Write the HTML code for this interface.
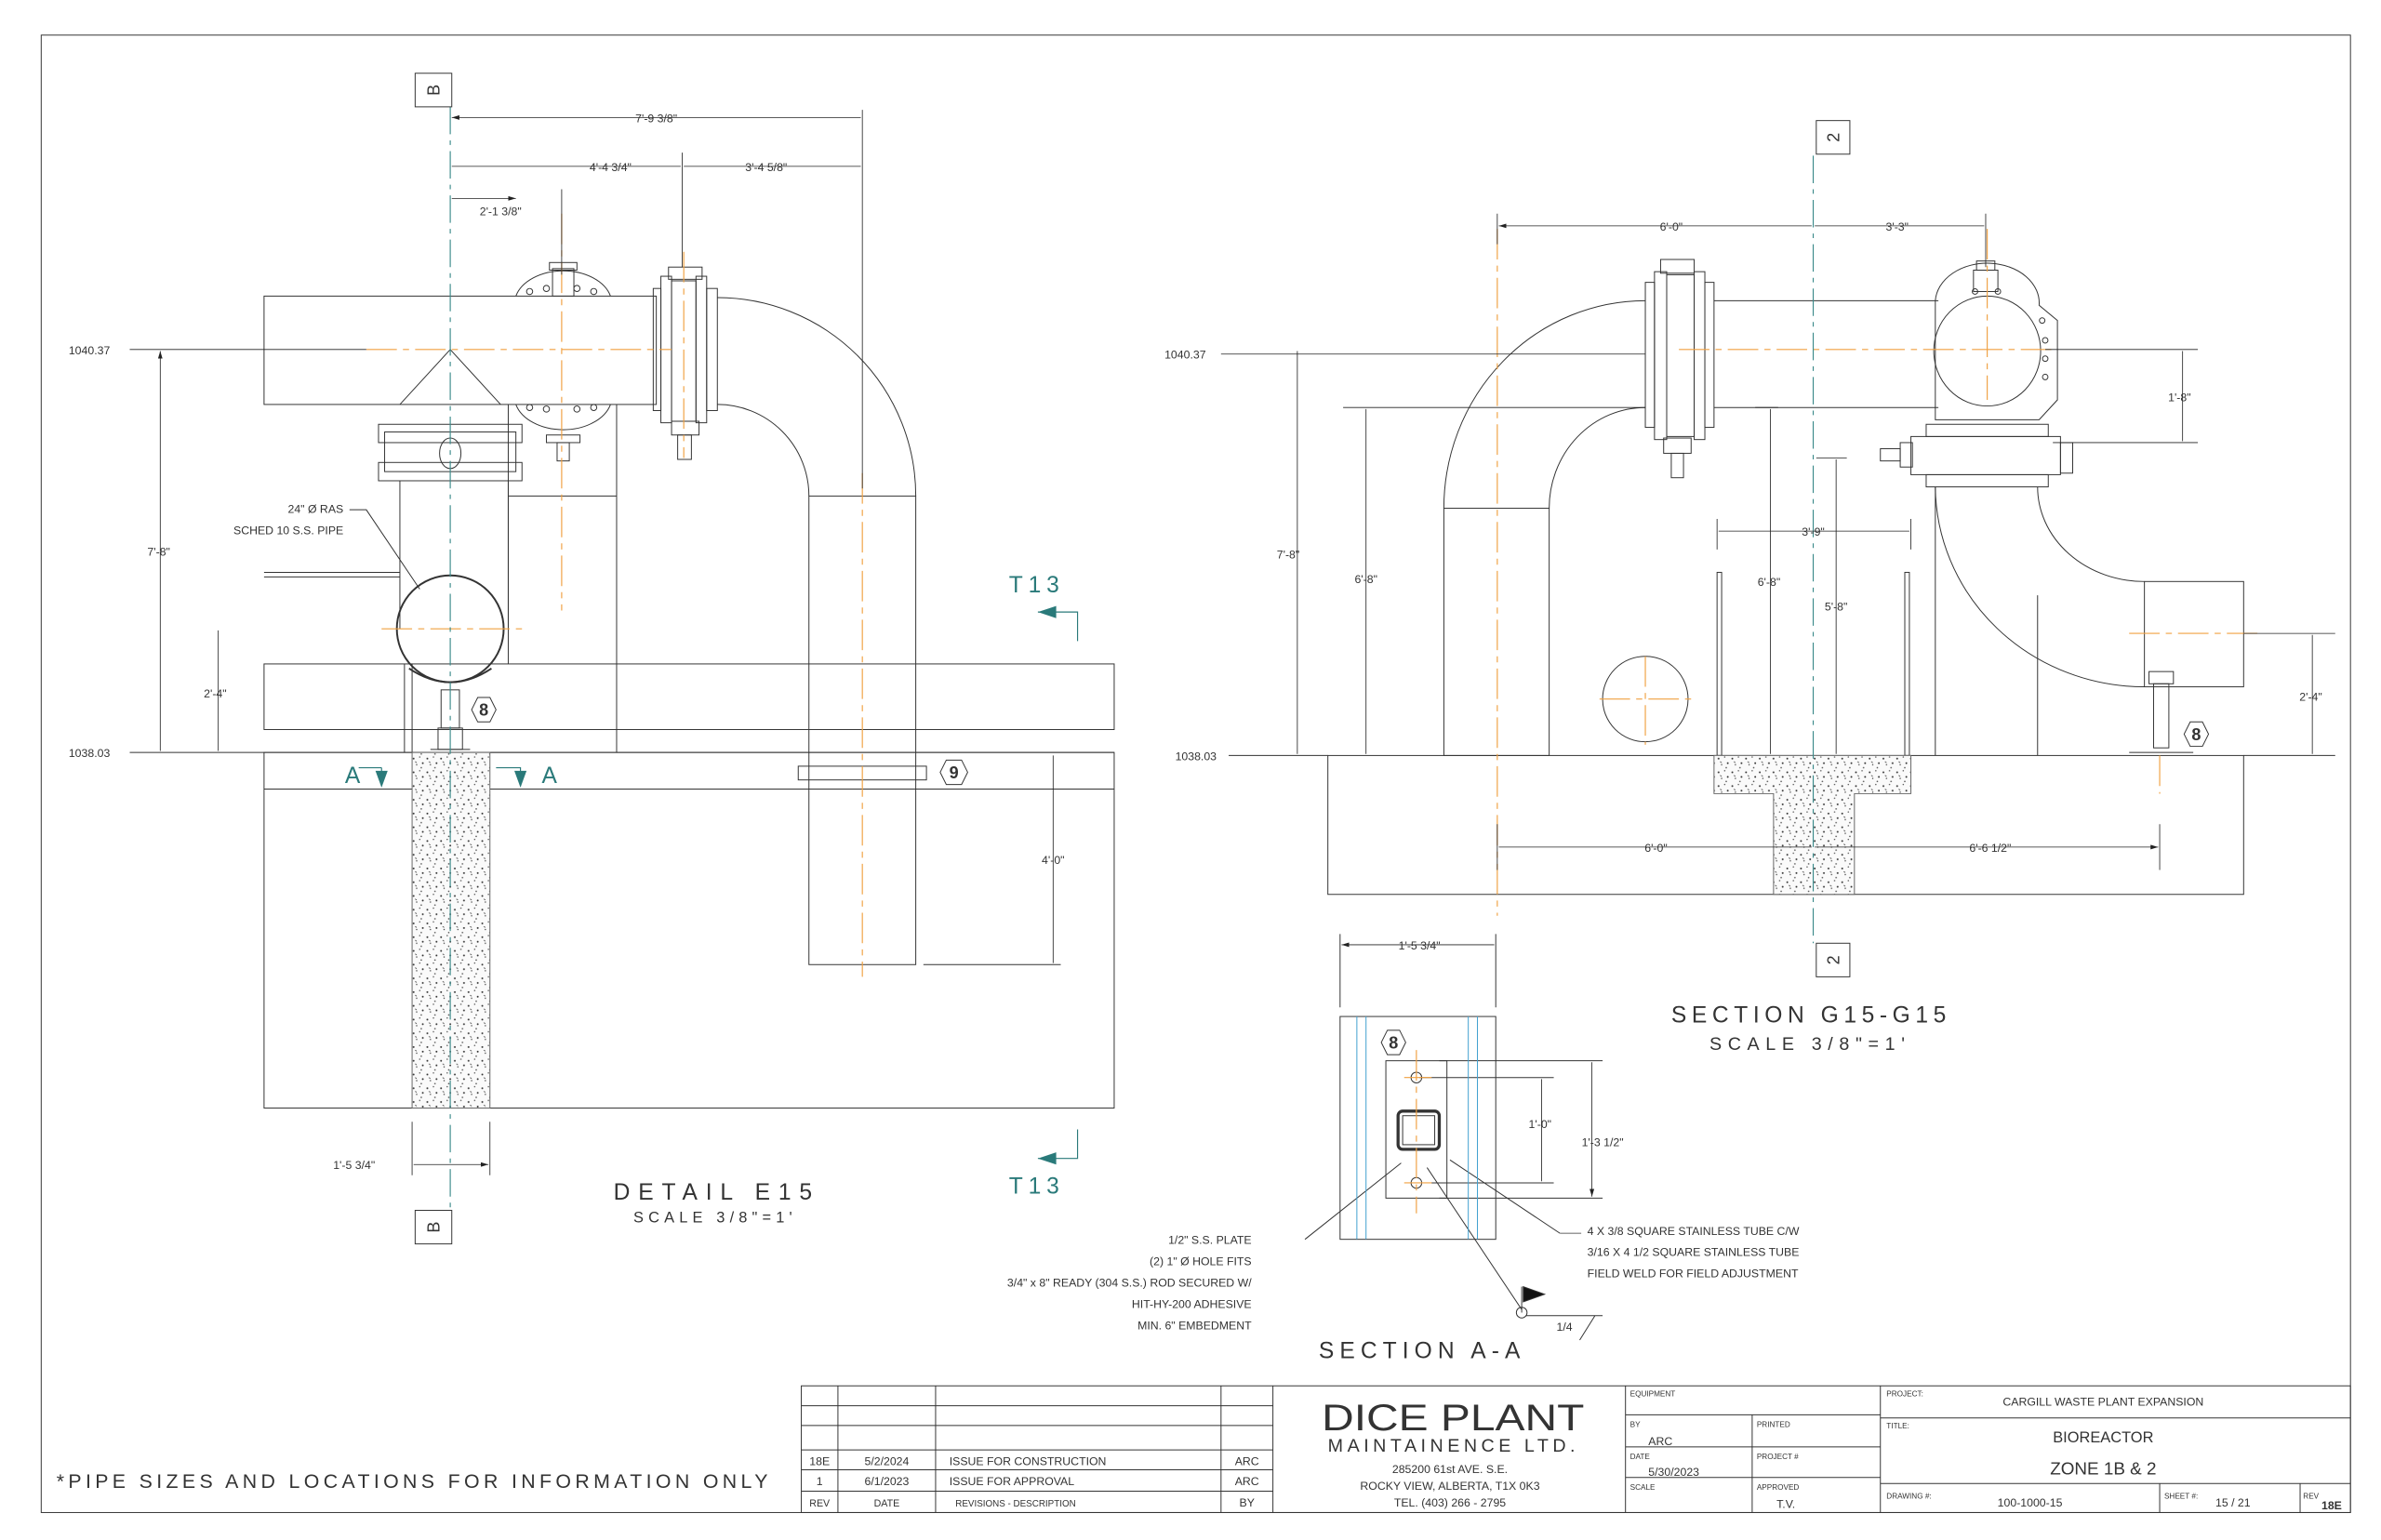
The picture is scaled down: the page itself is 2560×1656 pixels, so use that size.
<!DOCTYPE html>
<html><head><meta charset="utf-8"><style>
html,body{margin:0;padding:0;background:#fff;}
svg{display:block;}
text{font-family:"Liberation Sans Narrow","Liberation Sans",sans-serif;fill:#333;}
</style></head><body>
<svg width="2560" height="1656" viewBox="0 0 1560 1009" preserveAspectRatio="none" xmlns="http://www.w3.org/2000/svg">
<defs>
<pattern id="st" width="9" height="9" patternUnits="userSpaceOnUse">
<rect width="9" height="9" fill="#fafafa"/>
<circle cx="1" cy="2" r="0.6" fill="#333"/><circle cx="5" cy="1" r="0.45" fill="#555"/>
<circle cx="7" cy="5" r="0.6" fill="#333"/><circle cx="3" cy="6" r="0.45" fill="#444"/>
<circle cx="6" cy="8" r="0.5" fill="#555"/><path d="M2 4 l1 0.7" stroke="#333" stroke-width="0.5"/>
</pattern>
<marker id="ar" viewBox="0 0 10 6" refX="10" refY="3" markerWidth="10" markerHeight="6" orient="auto-start-reverse"><path d="M0 0L10 3L0 6z" fill="#222"/></marker>
</defs>
<g fill="none" stroke="#333" stroke-width="0.6">
<rect x="27" y="23" width="1513" height="968"/>

<!-- LEFT DETAIL -->
<rect x="173" y="194" width="257" height="71"/>
<path d="M262 265 L295 229 L328 265"/>
<rect x="252" y="283" width="86" height="26"/>
<rect x="248" y="278" width="94" height="12"/><rect x="248" y="303" width="94" height="12"/>
<ellipse cx="295" cy="297" rx="7" ry="10"/>
<path d="M262 315 V412 M333 315 V412"/>
<path d="M333 265 V435 M404 265 V493 M333 325 H404"/>
<path d="M173 375 H262 M173 378 H262"/>
<circle cx="295" cy="412" r="35" stroke-width="1.2"/>
<path d="M268 438 Q295 456 322 438" stroke-width="1.2"/>
<rect x="173" y="435" width="557" height="43"/>
<path d="M85 493 H173 M173 493 H730"/>
<rect x="173" y="493" width="557" height="233"/>
<path d="M173 517 H730"/>
<path d="M265 435 V493 M270 435 V493"/>
<rect x="270" y="493" width="51" height="233" fill="url(#st)" stroke="#666"/>
<rect x="289" y="452" width="12" height="25"/><rect x="287" y="477" width="16" height="14"/><path d="M282 491 H308"/>
<path d="M338 194 A32 22 0 0 1 400 194 M338 265 A32 22 0 0 0 400 265"/>
<rect x="362" y="176" width="14" height="18"/><rect x="360" y="172" width="18" height="5"/>
<rect x="358" y="285" width="22" height="5"/><rect x="365" y="290" width="8" height="12"/>
<circle cx="358" cy="189" r="2"/><circle cx="378" cy="189" r="2"/><circle cx="347" cy="191" r="2"/><circle cx="389" cy="191" r="2"/>
<circle cx="358" cy="268" r="2"/><circle cx="378" cy="268" r="2"/><circle cx="347" cy="267" r="2"/><circle cx="389" cy="267" r="2"/>
<rect x="428" y="189" width="5" height="80"/><rect x="433" y="181" width="7" height="96"/>
<rect x="440" y="184" width="16" height="92"/><rect x="456" y="181" width="7" height="96"/><rect x="463" y="189" width="7" height="80"/>
<rect x="438" y="175" width="22" height="8"/><rect x="440" y="276" width="18" height="9"/><rect x="444" y="285" width="9" height="16"/>
<path d="M470 195 A130 130 0 0 1 600 325 M470 265 A60 60 0 0 1 530 325"/>
<rect x="530" y="325" width="70" height="307"/>
<rect x="523" y="502" width="84" height="9"/>
<path d="M605 632 H695"/>

<!-- RIGHT SECTION -->
<rect x="1078" y="185" width="6" height="95"/><rect x="1084" y="178" width="8" height="110"/>
<rect x="1092" y="180" width="18" height="106"/><rect x="1110" y="178" width="7" height="110"/>
<rect x="1117" y="185" width="6" height="95"/>
<rect x="1088" y="170" width="22" height="9"/><rect x="1090" y="287" width="18" height="10"/><rect x="1095" y="297" width="8" height="16"/>
<path d="M1123 197 H1270 M1123 267 H1270"/>
<path d="M1078 197 A132 136 0 0 0 946 333 M1078 267 A63 66 0 0 0 1015 333"/>
<rect x="946" y="333" width="69" height="162"/>
<path d="M1268 197 A34 26 0 0 1 1336 200 L1348 210 V262 L1336 275 H1268 Z"/>
<ellipse cx="1302" cy="230" rx="35" ry="36"/>
<rect x="1293" y="177" width="16" height="14"/><rect x="1295" y="171" width="12" height="6"/>
<circle cx="1340" cy="223" r="1.8"/><circle cx="1340" cy="235" r="1.8"/><circle cx="1340" cy="247" r="1.8"/><circle cx="1338" cy="210" r="1.8"/><circle cx="1294" cy="191" r="1.8"/><circle cx="1309" cy="191" r="1.8"/>
<rect x="1262" y="278" width="80" height="8"/><rect x="1252" y="286" width="98" height="25"/><rect x="1262" y="311" width="80" height="8"/>
<rect x="1245" y="290" width="8" height="16"/><rect x="1232" y="294" width="13" height="8"/><rect x="1350" y="290" width="8" height="20"/>
<path d="M1268 319 A137 132 0 0 0 1405 450 M1335 319 A70 62 0 0 0 1405 381"/>
<rect x="1405" y="381" width="65" height="69"/>
<path d="M1268 319 V495 M1335 390 V495"/>
<rect x="1408" y="440" width="16" height="8"/><rect x="1411" y="448" width="10" height="42"/><path d="M1395 493 H1437"/>
<rect x="1125" y="375" width="3" height="120"/><rect x="1248" y="375" width="3" height="120"/>
<circle cx="1078" cy="458" r="28"/>
<path d="M805 495 H870 M1470 495 H1530"/>
<rect x="870" y="495" width="600" height="91"/>
<path d="M1123 495 H1252 V520 H1215 V586 H1162 V520 H1123 Z" fill="url(#st)" stroke="#666"/>

<!-- SECTION A-A -->
<rect x="878" y="666" width="102" height="146"/>
<rect x="908" y="695" width="40" height="90"/>
<rect x="916" y="728" width="27" height="25" stroke-width="2" rx="3"/>
<rect x="919" y="731" width="21" height="19"/>
<circle cx="928" cy="706" r="3.5"/><circle cx="928" cy="775" r="3.5"/>
<path d="M943 695 H1050 M930 706 H1018 M930 775 H1018 M943 785 H1050"/>
<path d="M878 612 V660 M980 612 V660"/>
<circle cx="997" cy="860" r="3.5"/><path d="M997 860 V843"/><path d="M998 843 L1012 848 L998 853 Z" fill="#111"/>
<path d="M1000 862 H1050 M1045 862 L1035 878"/>
<path d="M1022 808 L950 760 M997 858 L935 765 M855 812 L918 762 M229 334 L240 334 L275 386"/>

<!-- title block -->
<rect x="525" y="908" width="1015" height="83"/>
<path d="M549 908 V991 M613 908 V991 M800 908 V991 M834 908 V991 M1065 908 V991 M1232 908 V991"/>
<path d="M525 921 H800 M525 934 H800 M525 950 H834 M525 963 H834 M525 977 H834 M800 921 H834 M800 934 H834"/>
<path d="M1065 927 H1232 M1065 948 H1232 M1065 968 H1232 M1148 927 V991"/>
<path d="M1232 929 H1540 M1232 972 H1540 M1415 972 V991 M1507 972 V991"/>
<rect x="260" y="1010" width="18" height="4"/><rect x="1243" y="1010" width="18" height="4"/>
</g>

<g stroke="#f0a040" stroke-width="0.7" stroke-dasharray="20 4 4 4" fill="none">
<path d="M240 229 H440 M368 140 V400 M448 165 V300 M565 310 V640 M250 412 H345"/>
<path d="M981 150 V600 M1100 229 H1345 M1302 150 V262 M1395 415 H1480 M1048 458 H1108 M1078 430 V488 M1415 495 V520"/>
<path d="M928 688 V795 M920 706 H938 M920 775 H938"/>
</g>
<g stroke="#3a8a8a" stroke-width="0.7" stroke-dasharray="18 4 3 4" fill="none">
<path d="M295 70 V793 M1188 102 V618"/>
</g>
<g stroke="#40a0d0" stroke-width="0.6" fill="none">
<path d="M889 666 V812 M895 666 V812 M962 666 V812 M968 666 V812"/>
</g>

<g stroke="#222" stroke-width="0.5" fill="none" marker-start="url(#ar)" marker-end="url(#ar)">
<path d="M296 77 H564 M296 109 H446 M448 109 H564 M296 130 H338"/>
<path d="M105 230 V492 M143 413 V492 M690 495 V631 M271 763 H320"/>
<path d="M982 148 H1187 M1189 148 H1300 M850 230 V494 M895 268 V494 M1160 268 V494 M1203 301 V494 M1126 348 H1251 M1430 230 V289 M1515 416 V494 M982 555 H1187 M1189 555 H1414"/>
<path d="M879 619 H979 M1010 707 V774 M1043 696 V784"/>
</g>
<g stroke="#222" stroke-width="0.5" fill="none">
<path d="M565 72 V320 M447 100 V175 M368 124 V180 M85 229 H240"/>
<path d="M270 735 V770 M321 735 V770"/>
<path d="M981 140 V160 M1301 140 V175 M800 232 H1078 M880 267 H1078 M1150 267 H1165 M1190 300 H1210 M1125 340 V360 M1252 340 V360 M1340 229 H1440 M1345 290 H1440 M1470 415 H1530 M1415 540 V570 M981 540 V570"/>
</g>

<g stroke="#2a7a7a" stroke-width="0.7" fill="none">
<path d="M680 401 H706 V420 M680 759 H706 V740 M250 503 H235 M250 503 V515 M325 503 H341 V515"/>
</g>
<g fill="#2a7a7a">
<path d="M680 401 L692 397 L692 405Z"/><path d="M680 759 L692 755 L692 763Z"/>
<path d="M246 505 L254 505 L250 516Z"/><path d="M337 505 L345 505 L341 516Z"/>
</g>
<g font-size="15">
<text x="661" y="388" style="fill:#2a7a7a" textLength="33">T13</text>
<text x="661" y="782" style="fill:#2a7a7a" textLength="33">T13</text>
<text x="226" y="513" style="fill:#2a7a7a">A</text>
<text x="355" y="513" style="fill:#2a7a7a">A</text>
</g>

<g fill="#fff" stroke="#333" stroke-width="0.6">
<rect x="272" y="48" width="24" height="22"/><rect x="272" y="793" width="24" height="22"/>
<rect x="1190" y="79" width="22" height="22"/><rect x="1190" y="618" width="22" height="22"/>
<path d="M309 465 L313 457 H321 L325 465 L321 473 H313 Z"/>
<path d="M616 506 L620 498 H630 L634 506 L630 514 H620 Z"/>
<path d="M1431 481 L1435 473 H1443 L1447 481 L1443 489 H1435 Z"/>
<path d="M905 683 L909 675 H917 L921 683 L917 691 H909 Z"/>
</g>
<g font-size="11" text-anchor="middle">
<text transform="translate(284,59) rotate(-90)" y="4">B</text>
<text transform="translate(284,804) rotate(-90)" y="4">B</text>
<text transform="translate(1201,90) rotate(-90)" y="4">2</text>
<text transform="translate(1201,629) rotate(-90)" y="4">2</text>
<text x="317" y="469" font-weight="bold">8</text>
<text x="625" y="510" font-weight="bold">9</text>
<text x="1439" y="485" font-weight="bold">8</text>
<text x="913" y="687" font-weight="bold">8</text>
</g>

<g font-size="7.5" text-anchor="middle">
<text x="430" y="80">7'-9 3/8"</text>
<text x="400" y="112">4'-4 3/4"</text>
<text x="502" y="112">3'-4 5/8"</text>
<text x="328" y="141">2'-1 3/8"</text>
<text x="104" y="364">7'-8"</text>
<text x="141" y="457">2'-4"</text>
<text x="690" y="566">4'-0"</text>
<text x="232" y="766">1'-5 3/4"</text>
<text x="1095" y="151">6'-0"</text>
<text x="1243" y="151">3'-3"</text>
<text x="844" y="366">7'-8"</text>
<text x="895" y="382">6'-8"</text>
<text x="1159" y="384">6'-8"</text>
<text x="1203" y="400">5'-8"</text>
<text x="1188" y="351">3'-9"</text>
<text x="1428" y="263">1'-8"</text>
<text x="1514" y="459">2'-4"</text>
<text x="1085" y="558">6'-0"</text>
<text x="1304" y="558">6'-6 1/2"</text>
<text x="930" y="622">1'-5 3/4"</text>
<text x="1009" y="739">1'-0"</text>
<text x="1050" y="751">1'-3 1/2"</text>
<text x="1025" y="872">1/4</text>
</g>
<g font-size="7.5">
<text x="45" y="232">1040.37</text>
<text x="45" y="496">1038.03</text>
<text x="763" y="235">1040.37</text>
<text x="770" y="498">1038.03</text>
<text x="225" y="336" text-anchor="end">24" Ø RAS</text>
<text x="225" y="350" text-anchor="end">SCHED 10 S.S. PIPE</text>
<text x="820" y="815" text-anchor="end">1/2" S.S. PLATE</text>
<text x="820" y="829" text-anchor="end">(2) 1" Ø HOLE FITS</text>
<text x="820" y="843" text-anchor="end">3/4" x 8" READY (304 S.S.) ROD SECURED W/</text>
<text x="820" y="857" text-anchor="end">HIT-HY-200 ADHESIVE</text>
<text x="820" y="871" text-anchor="end">MIN. 6" EMBEDMENT</text>
<text x="1040" y="809">4 X 3/8 SQUARE STAINLESS TUBE C/W</text>
<text x="1040" y="823">3/16 X 4 1/2 SQUARE STAINLESS TUBE</text>
<text x="1040" y="837">FIELD WELD FOR FIELD ADJUSTMENT</text>
</g>
<path d="M1022 808 H1036" stroke="#333" stroke-width="0.5"/>

<text x="402" y="786" font-size="15" textLength="130" lengthAdjust="spacing">DETAIL  E15</text>
<text x="415" y="801" font-size="10" textLength="104" lengthAdjust="spacing">SCALE 3/8"=1'</text>
<text x="1095" y="670" font-size="15" textLength="180" lengthAdjust="spacing">SECTION G15-G15</text>
<text x="1120" y="688" font-size="12" textLength="128" lengthAdjust="spacing">SCALE 3/8"=1'</text>
<text x="864" y="890" font-size="15" textLength="132" lengthAdjust="spacing">SECTION A-A</text>
<text x="37" y="975" font-size="13" textLength="466" lengthAdjust="spacing">*PIPE SIZES AND LOCATIONS FOR INFORMATION ONLY</text>

<g font-size="7.5">
<text x="537" y="960" text-anchor="middle">18E</text>
<text x="537" y="973" text-anchor="middle">1</text>
<text x="537" y="987" text-anchor="middle" font-size="6.5">REV</text>
<text x="581" y="960" text-anchor="middle">5/2/2024</text>
<text x="581" y="973" text-anchor="middle">6/1/2023</text>
<text x="581" y="987" text-anchor="middle" font-size="6.5">DATE</text>
<text x="622" y="960">ISSUE FOR CONSTRUCTION</text>
<text x="622" y="973">ISSUE FOR APPROVAL</text>
<text x="626" y="987" font-size="6">REVISIONS - DESCRIPTION</text>
<text x="817" y="960" text-anchor="middle">ARC</text>
<text x="817" y="973" text-anchor="middle">ARC</text>
<text x="817" y="987" text-anchor="middle">BY</text>
<text x="866" y="937" font-size="24" textLength="172" lengthAdjust="spacingAndGlyphs">DICE PLANT</text>
<text x="870" y="951" font-size="12" textLength="162" lengthAdjust="spacing">MAINTAINENCE LTD.</text>
<text x="950" y="965" text-anchor="middle">285200 61st AVE. S.E.</text>
<text x="950" y="976" text-anchor="middle">ROCKY VIEW, ALBERTA, T1X 0K3</text>
<text x="950" y="987" text-anchor="middle">TEL. (403) 266 - 2795</text>
<g font-size="5"><text x="1068" y="915">EQUIPMENT</text><text x="1068" y="935">BY</text><text x="1151" y="935">PRINTED</text>
<text x="1068" y="956">DATE</text><text x="1151" y="956">PROJECT #</text><text x="1068" y="976">SCALE</text><text x="1151" y="976">APPROVED</text>
<text x="1236" y="915">PROJECT:</text><text x="1236" y="936">TITLE:</text><text x="1236" y="982">DRAWING #:</text><text x="1418" y="982">SHEET #:</text><text x="1509" y="982">REV</text></g>
<text x="1080" y="947">ARC</text>
<text x="1080" y="967">5/30/2023</text>
<text x="1164" y="988">T.V.</text>
<text x="1378" y="921" text-anchor="middle">CARGILL WASTE PLANT EXPANSION</text>
<text x="1378" y="945" text-anchor="middle" font-size="10">BIOREACTOR</text>
<text x="1378" y="966" text-anchor="middle" font-size="11.5">ZONE 1B &amp; 2</text>
<text x="1330" y="987" text-anchor="middle">100-1000-15</text>
<text x="1463" y="987" text-anchor="middle">15 / 21</text>
<text x="1521" y="989" font-weight="bold">18E</text>
</g>
</svg>
</body></html>
